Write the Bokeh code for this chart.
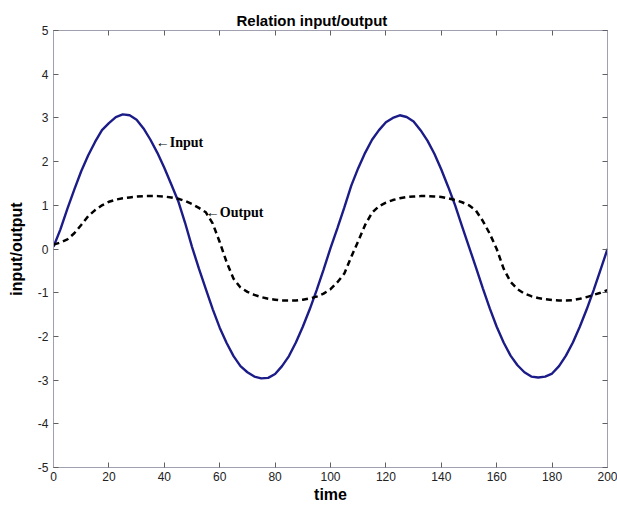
from bokeh.plotting import figure
from bokeh.models import LinearAxis, FixedTicker, Label, Range1d, Title
from bokeh.embed import file_html
from bokeh.resources import INLINE

# time samples
time = [i * 2.5 for i in range(81)]

input_values = [
    0.05, 0.45, 0.92, 1.36, 1.78, 2.14, 2.45, 2.72, 2.88, 3.02,
    3.08, 3.06, 2.96, 2.76, 2.50, 2.20, 1.86, 1.48, 1.10, 0.60,
    0.05, -0.45, -0.92, -1.38, -1.80, -2.15, -2.45, -2.68, -2.82, -2.92,
    -2.96, -2.95, -2.86, -2.68, -2.45, -2.14, -1.78, -1.38, -0.94, -0.47,
    0.02, 0.48, 0.95, 1.45, 1.85, 2.20, 2.50, 2.72, 2.90, 3.00,
    3.06, 3.02, 2.92, 2.72, 2.48, 2.18, 1.82, 1.42, 1.00, 0.52,
    0.05, -0.42, -0.90, -1.36, -1.78, -2.14, -2.44, -2.66, -2.82, -2.92,
    -2.94, -2.92, -2.85, -2.68, -2.44, -2.14, -1.78, -1.38, -0.94, -0.47,
    0.00,
]

output_values = [
    0.10, 0.15, 0.22, 0.36, 0.55, 0.75, 0.89, 1.00, 1.08, 1.13,
    1.16, 1.18, 1.20, 1.21, 1.21, 1.21, 1.20, 1.18, 1.15, 1.10,
    1.03, 0.94, 0.84, 0.58, 0.16, -0.30, -0.68, -0.88, -0.98, -1.05,
    -1.10, -1.14, -1.16, -1.18, -1.18, -1.18, -1.16, -1.13, -1.09, -1.02,
    -0.92, -0.76, -0.56, -0.18, 0.18, 0.55, 0.83, 0.98, 1.06, 1.12,
    1.16, 1.19, 1.20, 1.21, 1.21, 1.20, 1.19, 1.16, 1.12, 1.07,
    1.00, 0.88, 0.64, 0.35, 0.00, -0.45, -0.75, -0.92, -1.02, -1.08,
    -1.12, -1.15, -1.17, -1.18, -1.18, -1.17, -1.14, -1.10, -1.05, -1.00,
    -0.94,
]

x_ticks = [0, 20, 40, 60, 80, 100, 120, 140, 160, 180, 200]
y_ticks = [-5, -4, -3, -2, -1, 0, 1, 2, 3, 4, 5]
y_tick_labels = {t: str(t) for t in y_ticks}

p = figure(width=617, height=511, output_backend="svg", toolbar_location=None,
           x_range=Range1d(0, 200), y_range=Range1d(-5, 5),
           min_border_left=53, min_border_right=10, min_border_top=30,
           min_border_bottom=44)
p.background_fill_color = "white"
p.border_fill_color = "white"
p.outline_line_color = "#a0a0b0"
p.xgrid.visible = False
p.ygrid.visible = False

AX = "#a0a0b0"
for ax in [p.xaxis[0], p.yaxis[0]]:
    ax.major_tick_in = 5
    ax.major_tick_out = 0
    ax.minor_tick_in = 0
    ax.minor_tick_out = 0
    ax.axis_line_color = AX
    ax.major_tick_line_color = "#606060"
    ax.major_label_text_font = "Liberation Sans"
    ax.major_label_text_font_size = "12px"
    ax.major_label_text_color = "#222222"
    ax.axis_label_text_font = "Liberation Sans"
    ax.axis_label_text_font_style = "bold"
    ax.axis_label_text_font_size = "16px"
    ax.axis_label_text_color = "black"

p.xaxis[0].ticker = FixedTicker(ticks=x_ticks)
p.yaxis[0].ticker = FixedTicker(ticks=y_ticks)
p.yaxis[0].major_label_overrides = y_tick_labels
p.xaxis[0].axis_label = "time"
p.yaxis[0].axis_label = "input/output"
p.xaxis[0].major_label_standoff = 4
p.yaxis[0].major_label_standoff = 5
p.xaxis[0].axis_label_standoff = 2
p.yaxis[0].axis_label_standoff = 10

# box ticks on the right and top: minor ticks only, so no labels are drawn
for loc, ticks in (("right", y_ticks), ("above", x_ticks)):
    ax = LinearAxis(ticker=FixedTicker(ticks=[], minor_ticks=ticks))
    ax.major_tick_in = 0
    ax.major_tick_out = 0
    ax.minor_tick_in = 5
    ax.minor_tick_out = 0
    ax.axis_line_color = AX
    ax.minor_tick_line_color = "#606060"
    ax.major_label_standoff = 0
    p.add_layout(ax, loc)

p.line(time, input_values, line_color="#1c1c88", line_width=2.4)
p.line(time, output_values, line_color="black", line_width=2.5, line_dash="6 4")

p.add_layout(Label(x=36.9, y=2.43, text="\u2190Input", text_font="Liberation Serif",
                   text_font_style="bold", text_font_size="14px",
                   text_baseline="middle", text_color="black"))
p.add_layout(Label(x=55.0, y=0.84, text="\u2190Output", text_font="Liberation Serif",
                   text_font_style="bold", text_font_size="14px",
                   text_baseline="middle", text_color="black"))

title = Title(text="Relation input/output", align="left", offset=183,
              text_font="Liberation Sans", text_font_style="bold",
              text_font_size="15px", text_color="black", standoff=4)
p.add_layout(title, "above")

open("out.html", "w").write(file_html(p, INLINE))
